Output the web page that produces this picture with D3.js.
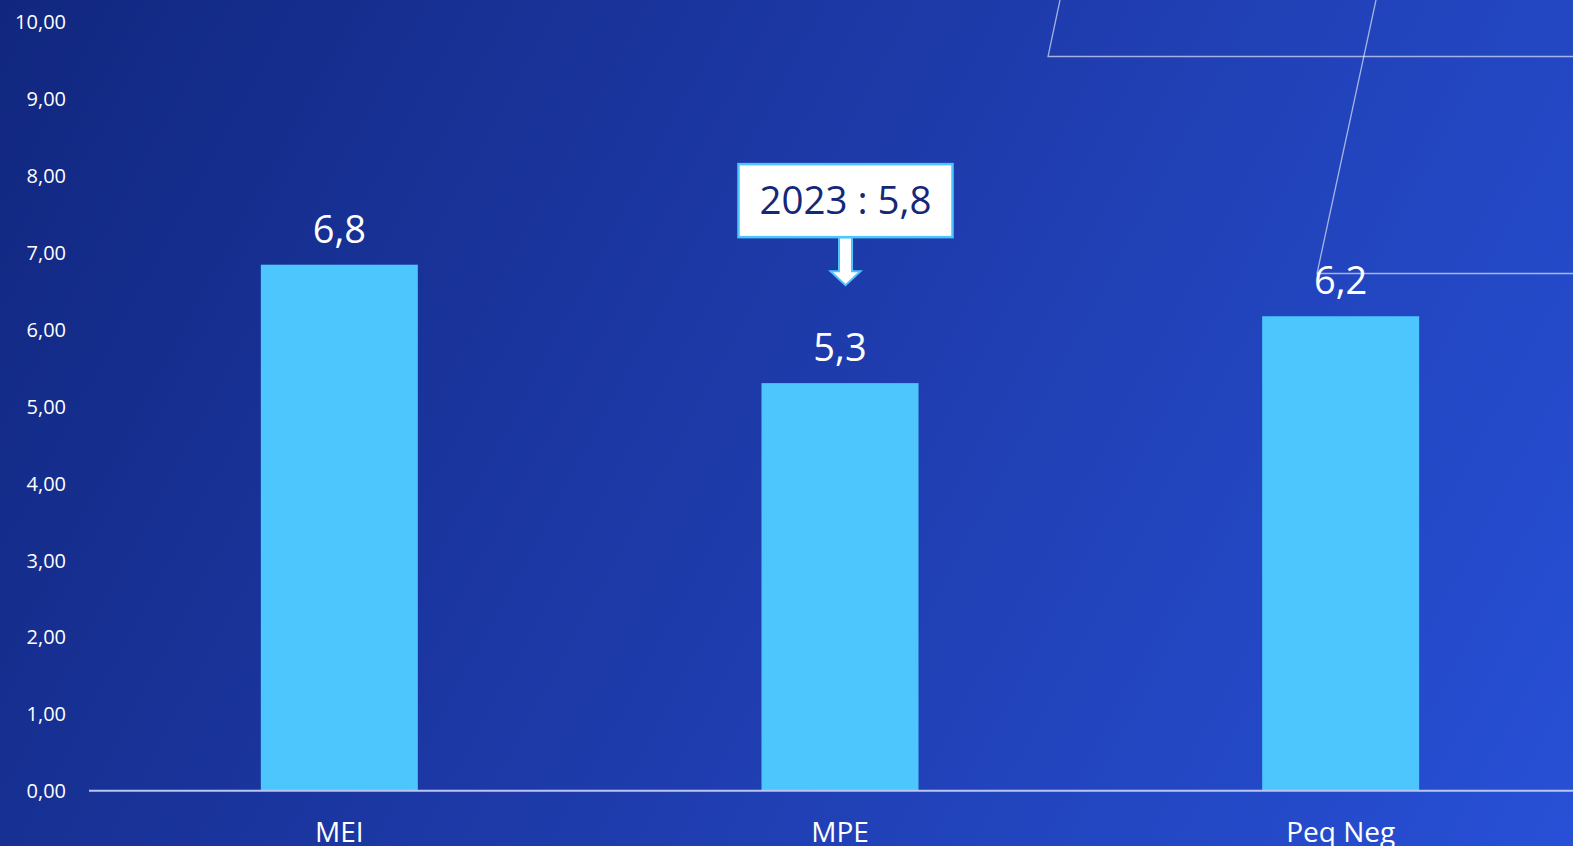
<!DOCTYPE html>
<html>
<head>
<meta charset="utf-8">
<script src="https://cdn.jsdelivr.net/npm/d3@7/dist/d3.min.js"></script>
<style>
  html, body { margin: 0; padding: 0; overflow: hidden; background: #1a2f95; }
  svg { display: block; font-family: "Open Sans", "Noto Sans", sans-serif; }
</style>
</head>
<body>
<svg id="chart" width="1573" height="846"></svg>
<script>
// ---- data ----
const categories = ["MEI", "MPE", "Peq Neg"];
const values = [6.84, 5.30, 6.17];
const valueLabels = ["6,8", "5,3", "6,2"];
const yTicks = [0, 1, 2, 3, 4, 5, 6, 7, 8, 9, 10];
const yTickLabels = ["0,00", "1,00", "2,00", "3,00", "4,00", "5,00", "6,00", "7,00", "8,00", "9,00", "10,00"];
const calloutCategory = "MPE";
const calloutText = "2023 : 5,8";

// ---- layout ----
const W = 1573, H = 846;
const svg = d3.select("#chart");

const defs = svg.append("defs");
const grad = defs.append("linearGradient").attr("id", "bg")
  .attr("gradientUnits", "userSpaceOnUse")
  .attr("x1", 0).attr("y1", 0).attr("x2", W).attr("y2", H);
grad.append("stop").attr("offset", "0").attr("stop-color", "#11277f");
grad.append("stop").attr("offset", "0.5").attr("stop-color", "#1e3bab");
grad.append("stop").attr("offset", "1").attr("stop-color", "#2750d6");
svg.append("rect").attr("width", W).attr("height", H).attr("fill", "url(#bg)");

// decorative slide lines
const deco = svg.append("g").attr("fill", "none")
  .attr("stroke", "rgba(255,255,255,0.6)").attr("stroke-width", 1.3);
deco.append("path").attr("d", "M1060,0 L1048,56.5 L1573,56.5");
deco.append("path").attr("d", "M1376,0 L1317,273.5 L1573,273.5");

const x = d3.scaleBand().domain(categories).range([89, 1591])
  .paddingInner(0.6864).paddingOuter(0.3432);
const y = d3.scaleLinear().domain([0, 10]).range([790.7, 21.7]);

// y tick labels
const yAxis = d3.axisLeft(y).tickValues(yTicks)
  .tickFormat((d, i) => yTickLabels[i]).tickSize(0).tickPadding(0);
const gy = svg.append("g").attr("transform", "translate(66,0)").call(yAxis);
gy.select(".domain").remove();
gy.selectAll("text").attr("fill", "#ffffff").style("font-size", "20px")
  .style("font-family", "'Open Sans', sans-serif").attr("dy", "0.35em");

// bars
svg.append("g").selectAll("rect").data(values).join("rect")
  .attr("x", (d, i) => x(categories[i]))
  .attr("y", d => y(d))
  .attr("width", x.bandwidth())
  .attr("height", d => y(0) - y(d))
  .attr("fill", "#4dc5fd");

// baseline axis
svg.append("line").attr("x1", 89).attr("x2", W)
  .attr("y1", y(0)).attr("y2", y(0))
  .attr("stroke", "#b9c6f2").attr("stroke-width", 2);

// value labels
svg.append("g").selectAll("text").data(values).join("text")
  .attr("x", (d, i) => x(categories[i]) + x.bandwidth() / 2)
  .attr("y", d => y(d) - 22)
  .attr("text-anchor", "middle").attr("fill", "#ffffff")
  .style("font-size", "38px").text((d, i) => valueLabels[i]);

// category labels (cut by the bottom edge, as in the reference)
const xAxis = d3.axisBottom(x).tickSize(0).tickPadding(0);
const gx = svg.append("g").attr("transform", `translate(0,${y(0)})`).call(xAxis);
gx.select(".domain").remove();
gx.selectAll("text").attr("fill", "#ffffff").style("font-size", "28px")
  .style("font-family", "'Open Sans', sans-serif").attr("y", 51).attr("dy", 0);

// callout
const ci = categories.indexOf(calloutCategory);
const cx = x(calloutCategory) + x.bandwidth() / 2 + 5.5;
const tipY = y(values[ci]) - 98;
const headTop = tipY - 14;
const boxBottom = tipY - 48;
const boxTop = boxBottom - 73;
const callout = svg.append("g");
callout.append("path")
  .attr("d", `M${cx - 6.5},${boxBottom} L${cx + 6.5},${boxBottom} L${cx + 6.5},${headTop} L${cx + 15},${headTop} L${cx},${tipY} L${cx - 15},${headTop} L${cx - 6.5},${headTop} Z`)
  .attr("fill", "#ffffff").attr("stroke", "#4dc5fd").attr("stroke-width", 2);
callout.append("rect")
  .attr("x", cx - 107).attr("y", boxTop).attr("width", 214).attr("height", 73)
  .attr("fill", "#ffffff").attr("stroke", "#4dc5fd").attr("stroke-width", 2.5);
callout.append("text").attr("x", cx).attr("y", boxTop + 50)
  .attr("text-anchor", "middle").attr("fill", "#14287a")
  .style("font-size", "38.5px").text(calloutText);
</script>
</body>
</html>
